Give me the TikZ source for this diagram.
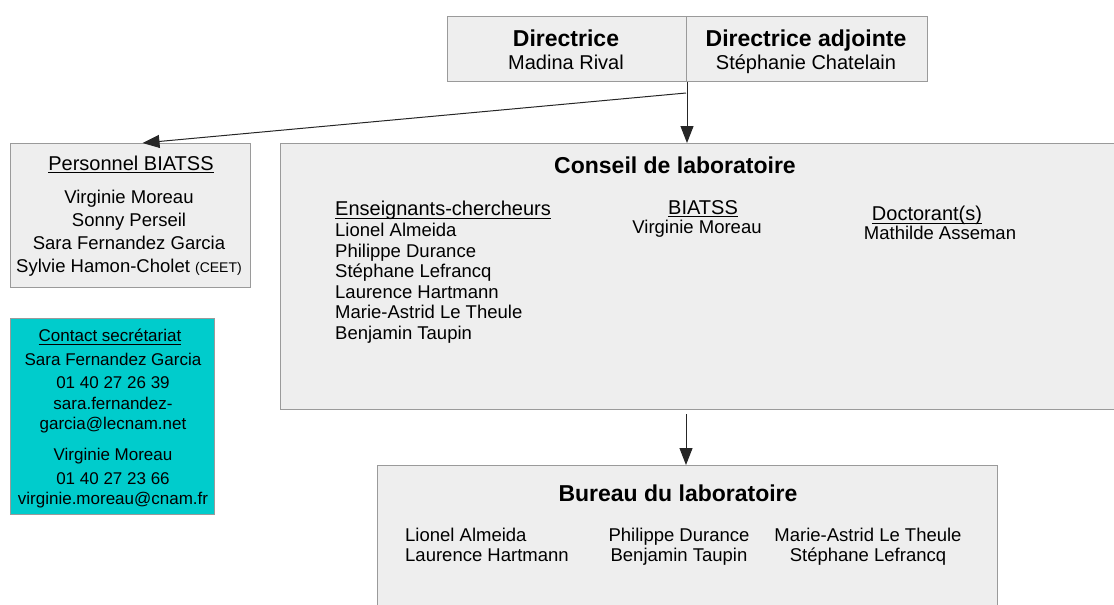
\documentclass[tikz,border=0pt]{standalone}
\usepackage{fontspec}
\setmainfont{Liberation Sans}
\usetikzlibrary{arrows.meta}

\definecolor{boxgray}{HTML}{EEEEEE}
\definecolor{linegray}{HTML}{9A9A9A}
\definecolor{contactcyan}{HTML}{00CCCC}
\newcommand\ulin[1]{\setbox0\hbox{#1}\rlap{\rule[-2.8pt]{\wd0}{0.9pt}}\box0}
\newcommand\fsz[2]{\fontsize{#1}{#2}\selectfont}

\begin{document}
\begin{tikzpicture}[x=1pt,y=-1pt,
  box/.style={draw=linegray,fill=boxgray,line width=1pt,anchor=north west,inner sep=0pt},
  ttl/.style={font=\bfseries\fsz{23}{27},inner sep=0pt,anchor=base},
  hd/.style={font=\fsz{20}{24},inner sep=0pt,anchor=base},
  nm/.style={font=\fsz{18.5}{20.5},inner sep=0pt,anchor=base},
  conn/.style={draw=black!85,line width=1pt,-{Triangle[length=17pt,width=13pt]}}]
  \useasboundingbox (0,0) rectangle (1114,605);
  \clip (0,0) rectangle (1114,605);

  %boxes
  \node[box,minimum width=239pt,minimum height=65pt] (dir) at (447,16) {};
  \node[box,minimum width=241pt,minimum height=65pt] (adj) at (686,16) {};
  \node[box,minimum width=240pt,minimum height=144pt] (pers) at (10,143) {};
  \node[box,fill=contactcyan,minimum width=204pt,minimum height=196pt] (contact) at (10,318) {};
  \node[box,minimum width=860pt,minimum height=266pt] (conseil) at (280,143) {};
  \node[box,minimum width=620pt,minimum height=170pt] (bureau) at (377,465) {};

  %direction
  \node[ttl] (dirt) at (566,46) {Directrice};
  \node[hd] (dirn) at (566,69) {Madina Rival};
  \node[ttl] (adjt) at (806,46) {Directrice adjointe};
  \node[hd] (adjn) at (806,69) {Stéphanie Chatelain};

  %personnel (base = last line)
  \node[hd] (perst) at (131,170) {\ulin{Personnel BIATSS}};
  \node[nm,align=center,font=\fsz{18.5}{23}] (persl) at (129,272)
    {Virginie Moreau\\Sonny Perseil\\Sara Fernandez Garcia\\
     Sylvie Hamon-Cholet {\fsz{14}{14}(CEET)}};

  %contact
  \node[nm,font=\fsz{17}{21}] (contt) at (110,341.7) {\ulin{Contact secrétariat}};
  \node[nm,align=center,font=\fsz{17}{21}] (contl) at (113,504)
    {Sara Fernandez Garcia\\[1.3pt]01 40 27 26 39\\sara.fernandez-\\[-1pt]
     garcia@lecnam.net\\[10pt]Virginie Moreau\\[3pt]01 40 27 23 66\\[-1pt]
     virginie.moreau@cnam.fr};

  %conseil
  \node[ttl] (const) at (675,173) {Conseil de laboratoire};
  \node[hd,anchor=base west] (echt) at (335,215.7) {\ulin{Enseignants-chercheurs}};
  \node[nm,anchor=base west,align=left] (echl) at (335,339)
    {Lionel Almeida\\Philippe Durance\\Stéphane Lefrancq\\Laurence Hartmann\\
     Marie-Astrid Le Theule\\Benjamin Taupin};
  \node[hd] (biat) at (703,214) {\ulin{BIATSS}};
  \node[nm] (biatl) at (697,233.3) {Virginie Moreau};
  \node[hd] (doct) at (927,220.7) {\ulin{Doctorant(s)}};
  \node[nm] (docl) at (940,239.3) {Mathilde Asseman};

  %bureau
  \node[ttl] (burt) at (678,501) {Bureau du laboratoire};
  \node[nm,anchor=base west,align=left] (burl) at (405,561.5)
    {Lionel Almeida\\Laurence Hartmann};
  \node[nm,align=center] (burm) at (679,561.5) {Philippe Durance\\Benjamin Taupin};
  \node[nm,align=center] (burr) at (868,561.5)
    {Marie-Astrid Le Theule\\Stéphane Lefrancq};

  %arrows
  \coordinate (split) at (686,93);
  \draw[conn] (dir.south east) -- (dir.south east |- conseil.north);
  \draw[conn] (split) -- ([xshift=12pt]pers.north);
  \draw[conn] ([yshift=-4pt]conseil.south -| split) -- (bureau.north -| split);
\end{tikzpicture}
\end{document}
